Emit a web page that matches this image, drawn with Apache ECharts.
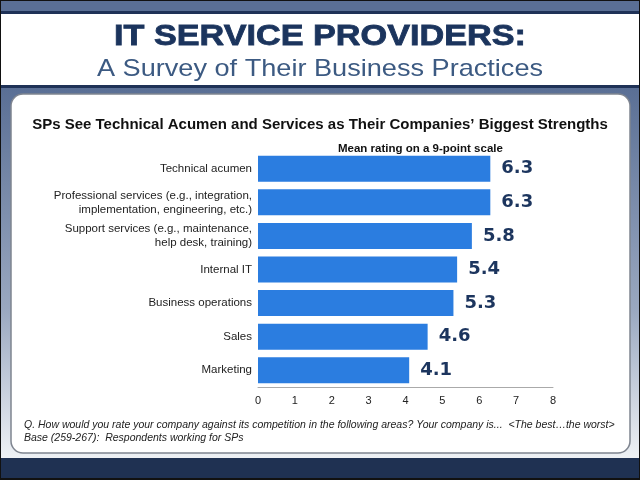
<!DOCTYPE html>
<html>
<head>
<meta charset="utf-8">
<script src="https://cdn.jsdelivr.net/npm/echarts@6/dist/echarts.min.js"></script>
<style>
  html, body { margin: 0; padding: 0; }
  #chart { width: 640px; height: 480px; }
</style>
</head>
<body>
<div id="chart"></div>
<script>
// chart data
const categories = [
  'Technical acumen',
  'Professional services (e.g., integration,\nimplementation, engineering, etc.)',
  'Support services (e.g., maintenance,\nhelp desk, training)',
  'Internal IT',
  'Business operations',
  'Sales',
  'Marketing'
];
const meanRatings = [6.3, 6.3, 5.8, 5.4, 5.3, 4.6, 4.1];

const font = '"Liberation Sans", Arial, sans-serif';
const steel = '#5a6f95';
const navy = '#1f3257';

const chart = echarts.init(document.getElementById('chart'));
chart.setOption({
  backgroundColor: '#111',
  textStyle: { fontFamily: font },
  graphic: [
    { type: 'rect', z: -10, shape: { x: 1, y: 1, width: 638, height: 10 }, style: { fill: steel } },
    { type: 'rect', z: -10, shape: { x: 1, y: 11, width: 638, height: 3 }, style: { fill: navy } },
    { type: 'rect', z: -10, shape: { x: 1, y: 14, width: 638, height: 71 }, style: { fill: '#fff' } },
    { type: 'rect', z: -10, shape: { x: 1, y: 85, width: 638, height: 3 }, style: { fill: navy } },
    {
      type: 'rect', z: -10,
      shape: { x: 1, y: 88, width: 638, height: 370 },
      style: {
        fill: new echarts.graphic.LinearGradient(0, 0, 0, 1, [
          { offset: 0, color: steel },
          { offset: 0.6, color: '#9aa8c0' },
          { offset: 1, color: '#eef1f5' }
        ])
      }
    },
    { type: 'rect', z: -10, shape: { x: 1, y: 458, width: 638, height: 20 }, style: { fill: '#1f3152' } },
    {
      type: 'rect', z: -9,
      shape: { x: 11, y: 94, width: 619, height: 359, r: 12 },
      style: { fill: '#fff', stroke: '#7f8590', lineWidth: 1.5 }
    },
    // page header, widened to match the heavy display face
    {
      type: 'text', x: 320, y: 22, scaleX: 1.18,
      style: {
        text: 'IT SERVICE PROVIDERS:',
        font: 'bold 29px ' + font,
        fill: '#1b345d', stroke: '#1b345d', lineWidth: 0.8,
        textAlign: 'center', textVerticalAlign: 'top'
      }
    },
    {
      type: 'text', x: 320, y: 57, scaleX: 1.13,
      style: {
        text: 'A Survey of Their Business Practices',
        font: '24px ' + font,
        fill: '#3c5a82',
        textAlign: 'center', textVerticalAlign: 'top'
      }
    },
    {
      type: 'text', left: 24, top: 419,
      style: {
        text: 'Q. How would you rate your company against its competition in the following areas? Your company is...  <The best\u2026the worst>\nBase (259-267):  Respondents working for SPs',
        font: 'italic 10.5px ' + font,
        fill: '#222',
        lineHeight: 13
      }
    }
  ],
  title: [
    {
      text: 'SPs See Technical Acumen and Services as Their Companies\u2019 Biggest Strengths',
      left: 'center', top: 112,
      textStyle: { fontFamily: font, fontSize: 15, fontWeight: 'bold', color: '#111' }
    },
    {
      text: 'Mean rating on a 9-point scale',
      left: 333, top: 138,
      textStyle: { fontFamily: font, fontSize: 11.5, fontWeight: 'bold', color: '#111' }
    }
  ],
  grid: { left: 258, right: 87, top: 152, bottom: 93, containLabel: false },
  xAxis: {
    type: 'value',
    min: 0,
    max: 8,
    interval: 1,
    axisLine: { show: true, lineStyle: { color: '#aaa', width: 1 } },
    axisTick: { show: false },
    splitLine: { show: false },
    axisLabel: { fontSize: 11, color: '#222', margin: 8 }
  },
  yAxis: {
    type: 'category',
    inverse: true,
    data: categories,
    axisLine: { show: false },
    axisTick: { show: false },
    axisLabel: { fontSize: 11.5, color: '#222', margin: 6, lineHeight: 14, align: 'right' }
  },
  series: [
    {
      type: 'bar',
      data: meanRatings,
      barWidth: 26,
      itemStyle: { color: '#2b7de0' },
      label: {
        show: true,
        position: 'right',
        distance: 11,
        fontSize: 18,
        fontWeight: 'bold',
        color: '#1c355e',
        fontFamily: '"DejaVu Sans", sans-serif'
      },
      silent: true
    }
  ]
});
</script>
</body>
</html>
